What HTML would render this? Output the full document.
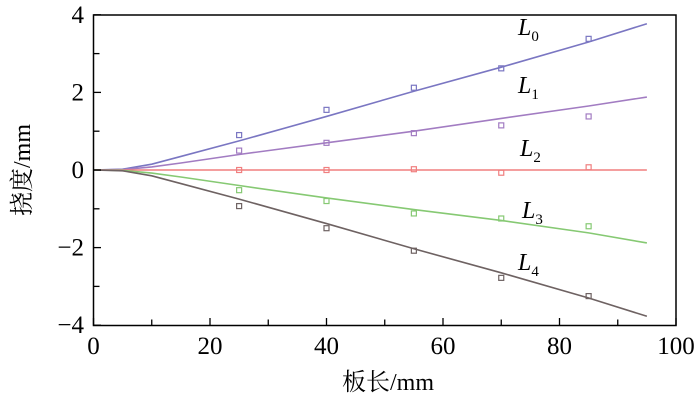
<!DOCTYPE html>
<html><head><meta charset="utf-8"><style>
body{margin:0;background:#fff}
svg text{font-family:"Liberation Serif","Noto Serif CJK SC",serif;fill:#000}
</style></head><body>
<svg id="c" width="700" height="400"></svg>
<script>
const xTicks=[0,20,40,60,80,100];
const yTicks=[-4,-2,0,2,4];
const fitX=[0,5,10,15,25,40,55,70,85,95];
const fitL0=[0,0.02,0.15,0.35,0.75,1.38,2.03,2.65,3.3,3.77];
const fitL1=[0,0.01,0.08,0.18,0.4,0.7,1.0,1.33,1.65,1.88];
const fitL2=[0,0,0,0,0,0,0,0,0,0];
const fitL3=[0,-0.01,-0.08,-0.18,-0.4,-0.72,-1.02,-1.3,-1.62,-1.88];
const fitL4=[0,-0.02,-0.15,-0.35,-0.75,-1.38,-2.03,-2.65,-3.3,-3.77];
const ptX=[25,40,55,70,85];
const ptL0=[0.9,1.55,2.12,2.62,3.38];
const ptL1=[0.5,0.7,0.95,1.15,1.38];
const ptL2=[0,0,0.02,-0.07,0.07];
const ptL3=[-0.52,-0.8,-1.12,-1.25,-1.45];
const ptL4=[-0.93,-1.5,-2.08,-2.78,-3.25];
const seriesNames=["L0","L1","L2","L3","L4"];
const colors=["#7a76c2","#a27cc2","#f07f7f","#86c973","#6e6262"];
const labelPos=[[518,35],[518,93],[520,156],[522,218],[518,270]];
const X=v=>93.5+v*5.825, Y=v=>170-v*38.8;
const s=document.getElementById('c'),NS="http://www.w3.org/2000/svg";
function mk(t,a,p){const e=document.createElementNS(NS,t);for(const k in a)e.setAttribute(k,a[k]);(p||s).appendChild(e);return e;}
const fits=[fitL0,fitL1,fitL2,fitL3,fitL4],pts=[ptL0,ptL1,ptL2,ptL3,ptL4];
fits.forEach((f,i)=>{
 const l=mk('polyline',{points:fitX.map((x,j)=>X(x)+','+Y(f[j])).join(' '),fill:'none',stroke:colors[i],'stroke-width':1.6});
 
 
 pts[i].forEach((v,j)=>{
  const r=mk('rect',{x:X(ptX[j])-2.5,y:Y(v)-2.5,width:5,height:5,fill:'none',stroke:colors[i],'stroke-width':1.2});
  
  
 });
 const t=mk('text',{x:labelPos[i][0],y:labelPos[i][1],'font-size':24,'font-style':'italic'});
 
 
 t.textContent='L';
 const sub=mk('tspan',{'font-size':15,'font-style':'normal',dy:6},t);sub.textContent=i;
});
const ax=mk('rect',{x:93.5,y:15,width:582.5,height:310.5,fill:'none',stroke:'#000','stroke-width':1.5});

for(let v=0;v<=100;v+=10){mk('line',{x1:X(v),x2:X(v),y1:325.5,y2:v%20?319.5:318,stroke:'#000','stroke-width':1.3});}
for(let v=-4;v<=4;v+=1){mk('line',{x1:93.5,x2:v%2?99.5:101,y1:Y(v),y2:Y(v),stroke:'#000','stroke-width':1.3});}
xTicks.forEach(v=>{const t=mk('text',{x:X(v),y:354,'font-size':25,'text-anchor':'middle'});
 t.textContent=v;});
yTicks.forEach(v=>{const t=mk('text',{x:84,y:Y(v)+8,'font-size':25,'text-anchor':'end'});
 t.textContent=v<0?'−'+(-v):v;});
const xt=mk('text',{x:388,y:390,'font-size':24,'text-anchor':'middle'});
xt.textContent='板长/mm';
const yt=mk('text',{x:0,y:0,'font-size':24,'text-anchor':'middle',transform:'translate(30,170) rotate(-90)'});
yt.textContent='挠度/mm';
</script>
</body></html>
